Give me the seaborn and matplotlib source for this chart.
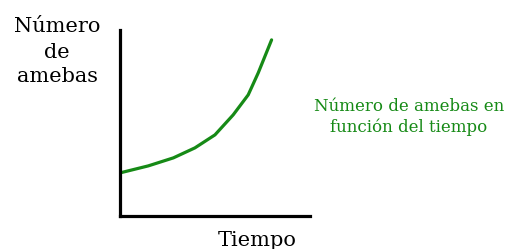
import numpy as np
import pandas as pd
import seaborn as sns
import matplotlib.pyplot as plt

# Curve (arbitrary units)
tiempo = [0.0, 1.86, 3.51, 4.93, 6.25, 7.45, 8.44, 9.10, 9.98]
amebas = [43, 50, 58, 68, 81, 101, 121, 143, 176]

df = pd.DataFrame({"tiempo": tiempo, "amebas": amebas})

sns.set_style("white")
plt.rcParams["font.family"] = ["DejaVu Serif"]

fig = plt.figure(figsize=(5.13, 2.49), dpi=100)
ax = fig.add_axes([0.234, 0.133, 0.370, 0.747])

sns.lineplot(data=df, x="tiempo", y="amebas", color="#168a16", linewidth=2.3, ax=ax)

ax.set_xlim(0, 12.5)
ax.set_ylim(0, 186)
ax.set_xticks([])
ax.set_yticks([])
ax.set_xlabel("")
ax.set_ylabel("")
sns.despine(ax=ax)
for side in ["left", "bottom"]:
    ax.spines[side].set_linewidth(2.3)
    ax.spines[side].set_color("black")

fig.text(57 / 513, 1 - 52 / 249, "Número\nde\namebas", ha="center", va="center",
         fontsize=15, linespacing=1.4, color="black")
fig.text(257 / 513, 1 - 240 / 249, "Tiempo", ha="center", va="center",
         fontsize=15, color="black")
fig.text(409 / 513, 1 - 117 / 249, "Número de amebas en\nfunción del tiempo",
         ha="center", va="center", fontsize=12, linespacing=1.25, color="#168a16")

fig.savefig("out.png", dpi=100)
